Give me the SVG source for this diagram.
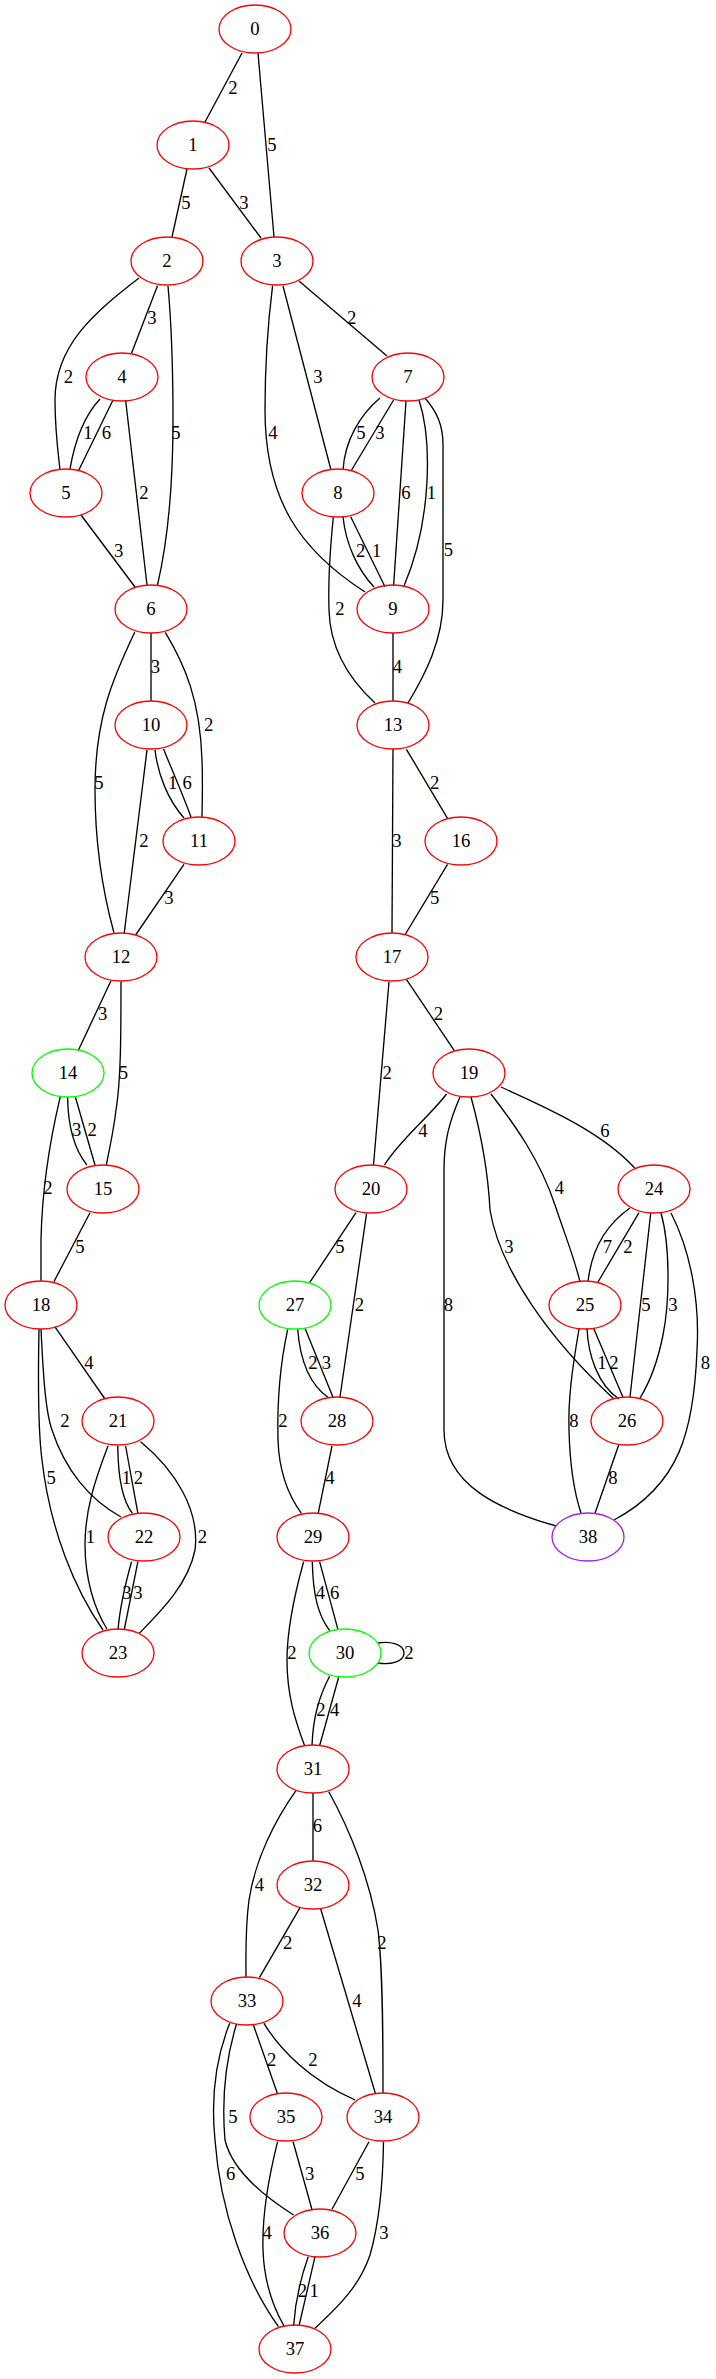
<svg xmlns="http://www.w3.org/2000/svg" width="716" height="2379" viewBox="0 0 716 2379">
<style>
.n ellipse{fill:none;stroke:#ff0000;stroke-width:1.33}
.n.g ellipse{stroke:#00ff00}
.n.p ellipse{stroke:#a020f0}
text{font-family:"Liberation Serif","Times New Roman",serif;font-size:18.67px;fill:#000;text-anchor:middle}
#edges path{fill:none;stroke:#000;stroke-width:1.33}
</style>
<rect width="716" height="2379" fill="#fff"/>
<g id="edges">
<path d="M242,53 L205,122"/><text x="233" y="94">2</text>
<path d="M258,53 C263,110 269,180 274,237"/><text x="272" y="151">5</text>
<path d="M187,169 L172,237"/><text x="186" y="209">5</text>
<path d="M209,168 L261,238"/><text x="244" y="209">3</text>
<path d="M157.5,285.7 L131.5,353.3"/><text x="152" y="324">3</text>
<path d="M139,278 C95,312 55,345 55,400 C55,430 58,452 60,470"/><text x="68.5" y="383">2</text>
<path d="M168,286 C172,330 173,380 173,420 C173,480 168,540 157.5,585"/><text x="176" y="439">5</text>
<path d="M299,281 L387,356"/><text x="351.6" y="324">2</text>
<path d="M283,286 L331,470"/><text x="318" y="383">3</text>
<path d="M272.6,285.7 C267,330 265,370 265,410 C265,500 300,550 365,592"/><text x="273" y="439">4</text>
<path d="M100,399 C85,415 75,440 70,469"/><text x="88" y="439">1</text>
<path d="M113,400 L78.5,470.7"/><text x="106.4" y="439">6</text>
<path d="M125.6,400 L147,585"/><text x="143.8" y="499">2</text>
<path d="M81,515 L135,587"/><text x="118.7" y="557">3</text>
<path d="M380,398 C360,415 345,440 343,470"/><text x="361" y="439">5</text>
<path d="M393.6,400 L351.6,470"/><text x="380" y="439">3</text>
<path d="M406,401 L393.6,585.7"/><text x="406" y="499">6</text>
<path d="M419,400 C432,440 432,520 404,586"/><text x="431.5" y="499">1</text>
<path d="M425,398 C437,412 443,425 443,445 C443,510 443,560 443,600 C443,640 425,675 408,703"/><text x="448.4" y="556">5</text>
<path d="M343,517 C346,545 358,570 374,587"/><text x="360.7" y="557">2</text>
<path d="M350.7,516.7 L385,586.7"/><text x="376.7" y="557">1</text>
<path d="M333.3,517.3 C330,550 328,580 329,610 C330,650 350,680 375,703"/><text x="340" y="615">2</text>
<path d="M393,633 L393,701"/><text x="397.5" y="673">4</text>
<path d="M151,633 L151,701"/><text x="155.5" y="673">3</text>
<path d="M165.3,632.3 C185,665 200,700 202,760 C203,790 202,805 202,817"/><text x="208.7" y="731">2</text>
<path d="M134.7,632.3 C112,680 95,720 95,790 C95,850 105,900 114,933"/><text x="99" y="789">5</text>
<path d="M155,750 C158,775 168,800 184,818"/><text x="172.6" y="789">1</text>
<path d="M163.5,749 C172,770 183,795 191,817"/><text x="187.2" y="789">6</text>
<path d="M147,750 L124.2,933.3"/><text x="143.8" y="847">2</text>
<path d="M184,864.3 L135.6,935"/><text x="169" y="904">3</text>
<path d="M406.4,749.3 L447.5,818.3"/><text x="434.7" y="789">2</text>
<path d="M393,749 L392,933"/><text x="397" y="847">3</text>
<path d="M447.5,864.3 L405.5,934"/><text x="434.7" y="904">5</text>
<path d="M111,980.7 L78.5,1050"/><text x="102.7" y="1020">3</text>
<path d="M121,981.7 C121,1030 121,1080 116,1110 C113,1135 109,1150 106.4,1165"/><text x="123.3" y="1079">5</text>
<path d="M406.4,979.3 L454.3,1050.7"/><text x="438.3" y="1020">2</text>
<path d="M389,981.7 L373.5,1165"/><text x="387.2" y="1079">2</text>
<path d="M67.6,1097.3 C68,1130 75,1150 86.8,1165"/><text x="76.7" y="1136">3</text>
<path d="M75.3,1096.7 L95,1165"/><text x="92.2" y="1136">2</text>
<path d="M60.3,1096.7 C50,1140 42,1190 41,1240 L41,1281"/><text x="48" y="1194">2</text>
<path d="M90,1212.7 L53.9,1281.7"/><text x="80" y="1253">5</text>
<path d="M446.6,1094 C428,1118 400,1140 384.5,1165"/><text x="422.8" y="1137">4</text>
<path d="M501,1087 C540,1105 600,1130 634.7,1168"/><text x="605" y="1137">6</text>
<path d="M491,1094 C515,1125 540,1160 555,1205 C565,1235 575,1260 580,1282"/><text x="559.3" y="1194">4</text>
<path d="M471,1097 C480,1130 488,1170 490,1210 C500,1270 550,1340 614,1399"/><text x="509" y="1253">3</text>
<path d="M460,1097 C450,1120 444,1140 444,1170 L444,1430 C444,1485 500,1510 556,1526"/><text x="448.4" y="1311">8</text>
<path d="M356,1212.7 L309.6,1282.7"/><text x="340" y="1253">5</text>
<path d="M366.6,1213.3 L340,1397"/><text x="359.4" y="1311">2</text>
<path d="M630,1208 C610,1222 592,1245 588,1282"/><text x="607.3" y="1253">7</text>
<path d="M639,1212.7 L598,1282"/><text x="627.8" y="1253">2</text>
<path d="M650.7,1213.3 L630,1397"/><text x="646" y="1311">5</text>
<path d="M661,1213 C670,1245 670,1300 663,1335 C658,1360 650,1382 640,1398"/><text x="673" y="1311">3</text>
<path d="M671,1213 C690,1250 700,1300 697,1350 C694,1430 680,1485 614,1520"/><text x="705.5" y="1369">8</text>
<path d="M587,1328 C588,1355 598,1385 619,1399"/><text x="602" y="1369">1</text>
<path d="M593.6,1328.3 L623.3,1398"/><text x="614" y="1369">2</text>
<path d="M579,1329 C572,1370 568,1400 569,1430 C570,1470 575,1495 581,1513"/><text x="574" y="1427">8</text>
<path d="M618.7,1445 L595,1513.3"/><text x="612.8" y="1484">8</text>
<path d="M54.8,1326.7 L105,1399"/><text x="89" y="1369">4</text>
<path d="M41,1329 C43,1370 45,1410 52,1430 C65,1470 90,1500 121,1517"/><text x="64.8" y="1427">2</text>
<path d="M39,1329 C38,1380 38,1430 42,1460 C50,1530 75,1590 103,1630"/><text x="51.1" y="1484">5</text>
<path d="M117.8,1446 C118,1475 122,1500 132.4,1513.3"/><text x="126.5" y="1484">1</text>
<path d="M125.6,1446 L137.9,1513.3"/><text x="138.4" y="1484">2</text>
<path d="M108,1446 C95,1480 85,1510 85,1545 C85,1580 95,1610 107,1629"/><text x="90.4" y="1543">1</text>
<path d="M140.6,1441.7 C175,1470 200,1510 195,1550 C188,1585 160,1612 139.3,1633.3"/><text x="202.3" y="1543">2</text>
<path d="M131.5,1561.7 C125,1585 120,1605 118,1630"/><text x="127" y="1599">3</text>
<path d="M137.9,1561.7 L124.2,1630"/><text x="137.9" y="1599">3</text>
<path d="M297.7,1329.3 C300,1360 310,1385 328.8,1398"/><text x="312.8" y="1369">2</text>
<path d="M305,1328.3 L333.3,1398"/><text x="326.5" y="1369">3</text>
<path d="M287.7,1329.3 C281,1360 277,1400 278,1440 C279,1470 288,1495 301.4,1513.3"/><text x="283" y="1427">2</text>
<path d="M332,1446 L318.2,1513.3"/><text x="330" y="1484">4</text>
<path d="M312.3,1561.7 C313,1595 318,1615 329.7,1630.7"/><text x="320.5" y="1599">4</text>
<path d="M319.6,1561.7 L337.9,1629.3"/><text x="334.7" y="1599">6</text>
<path d="M303.6,1561.7 C293,1600 287,1630 287,1660 C287,1695 295,1720 304.6,1745.7"/><text x="292" y="1659">2</text>
<path d="M378,1643 C390,1641 404,1644 404,1653 C404,1662 390,1665 378,1663"/><text x="409" y="1659">2</text>
<path d="M329.7,1676 C320,1695 313,1715 312,1745.7"/><text x="321" y="1716">2</text>
<path d="M338.8,1676.7 L319.6,1745.7"/><text x="334.7" y="1716">4</text>
<path d="M313,1793 L313,1861"/><text x="317.3" y="1832">6</text>
<path d="M296,1790.7 C275,1820 255,1860 249,1900 C245,1930 246,1955 246,1977"/><text x="259.4" y="1891">4</text>
<path d="M328.8,1791.7 C350,1830 370,1880 378,1930 C383,1970 383,2040 383,2093"/><text x="382" y="1949">2</text>
<path d="M300,1907.7 L259.4,1977.7"/><text x="287.7" y="1949">2</text>
<path d="M320.5,1908.3 L375.3,2093.3"/><text x="357" y="2007">4</text>
<path d="M253.4,2025 L277.6,2094"/><text x="271.7" y="2066">2</text>
<path d="M264,2023.3 C280,2050 310,2080 355.2,2100"/><text x="312.8" y="2066">2</text>
<path d="M236.5,2024 C224,2065 222,2105 225,2140 C232,2170 262,2195 293.6,2215"/><text x="232.9" y="2123">5</text>
<path d="M229.7,2023.3 C215,2060 211,2100 215,2140 C220,2210 245,2280 278.5,2326.7"/><text x="230.6" y="2180">6</text>
<path d="M293.1,2141.7 L311.9,2209.3"/><text x="309.6" y="2180">3</text>
<path d="M277.6,2141.7 C268,2180 262,2220 263,2250 C264,2280 272,2305 284,2326"/><text x="267.1" y="2239">4</text>
<path d="M369,2141.7 L332,2209.3"/><text x="359.8" y="2180">5</text>
<path d="M383.5,2141.7 C383,2180 380,2220 370,2255 C360,2285 340,2305 315,2328.3"/><text x="384" y="2239">3</text>
<path d="M308.2,2256.7 C300,2280 295,2305 293.6,2326"/><text x="302.3" y="2297">2</text>
<path d="M315,2256.7 L299,2326"/><text x="314.2" y="2297">1</text>
</g>
<g id="n0" class="n"><ellipse cx="255" cy="29" rx="36" ry="24"/><text x="255" y="35">0</text></g>
<g id="n1" class="n"><ellipse cx="193" cy="145" rx="36" ry="24"/><text x="193" y="151">1</text></g>
<g id="n2" class="n"><ellipse cx="167" cy="261" rx="36" ry="24"/><text x="167" y="267">2</text></g>
<g id="n3" class="n"><ellipse cx="277" cy="261" rx="36" ry="24"/><text x="277" y="267">3</text></g>
<g id="n4" class="n"><ellipse cx="122" cy="377" rx="36" ry="24"/><text x="122" y="383">4</text></g>
<g id="n5" class="n"><ellipse cx="66" cy="493" rx="36" ry="24"/><text x="66" y="499">5</text></g>
<g id="n6" class="n"><ellipse cx="151" cy="609" rx="36" ry="24"/><text x="151" y="615">6</text></g>
<g id="n7" class="n"><ellipse cx="408" cy="377" rx="36" ry="24"/><text x="408" y="383">7</text></g>
<g id="n8" class="n"><ellipse cx="338" cy="493" rx="36" ry="24"/><text x="338" y="499">8</text></g>
<g id="n9" class="n"><ellipse cx="393" cy="609" rx="36" ry="24"/><text x="393" y="615">9</text></g>
<g id="n10" class="n"><ellipse cx="151" cy="725" rx="36" ry="24"/><text x="151" y="731">10</text></g>
<g id="n11" class="n"><ellipse cx="199" cy="841" rx="36" ry="24"/><text x="199" y="847">11</text></g>
<g id="n12" class="n"><ellipse cx="121" cy="957" rx="36" ry="24"/><text x="121" y="963">12</text></g>
<g id="n13" class="n"><ellipse cx="393" cy="725" rx="36" ry="24"/><text x="393" y="731">13</text></g>
<g id="n14" class="n g"><ellipse cx="68" cy="1073" rx="36" ry="24"/><text x="68" y="1079">14</text></g>
<g id="n15" class="n"><ellipse cx="103" cy="1189" rx="36" ry="24"/><text x="103" y="1195">15</text></g>
<g id="n16" class="n"><ellipse cx="461" cy="841" rx="36" ry="24"/><text x="461" y="847">16</text></g>
<g id="n17" class="n"><ellipse cx="392" cy="957" rx="36" ry="24"/><text x="392" y="963">17</text></g>
<g id="n18" class="n"><ellipse cx="41" cy="1305" rx="36" ry="24"/><text x="41" y="1311">18</text></g>
<g id="n19" class="n"><ellipse cx="469" cy="1073" rx="36" ry="24"/><text x="469" y="1079">19</text></g>
<g id="n20" class="n"><ellipse cx="371" cy="1189" rx="36" ry="24"/><text x="371" y="1195">20</text></g>
<g id="n21" class="n"><ellipse cx="118" cy="1421" rx="36" ry="24"/><text x="118" y="1427">21</text></g>
<g id="n22" class="n"><ellipse cx="144" cy="1537" rx="36" ry="24"/><text x="144" y="1543">22</text></g>
<g id="n23" class="n"><ellipse cx="118" cy="1653" rx="36" ry="24"/><text x="118" y="1659">23</text></g>
<g id="n24" class="n"><ellipse cx="654" cy="1189" rx="36" ry="24"/><text x="654" y="1195">24</text></g>
<g id="n25" class="n"><ellipse cx="585" cy="1305" rx="36" ry="24"/><text x="585" y="1311">25</text></g>
<g id="n26" class="n"><ellipse cx="627" cy="1421" rx="36" ry="24"/><text x="627" y="1427">26</text></g>
<g id="n27" class="n g"><ellipse cx="295" cy="1305" rx="36" ry="24"/><text x="295" y="1311">27</text></g>
<g id="n28" class="n"><ellipse cx="337" cy="1421" rx="36" ry="24"/><text x="337" y="1427">28</text></g>
<g id="n29" class="n"><ellipse cx="313" cy="1537" rx="36" ry="24"/><text x="313" y="1543">29</text></g>
<g id="n30" class="n g"><ellipse cx="345" cy="1653" rx="36" ry="24"/><text x="345" y="1659">30</text></g>
<g id="n31" class="n"><ellipse cx="313" cy="1769" rx="36" ry="24"/><text x="313" y="1775">31</text></g>
<g id="n32" class="n"><ellipse cx="313" cy="1885" rx="36" ry="24"/><text x="313" y="1891">32</text></g>
<g id="n33" class="n"><ellipse cx="247" cy="2001" rx="36" ry="24"/><text x="247" y="2007">33</text></g>
<g id="n34" class="n"><ellipse cx="383" cy="2117" rx="36" ry="24"/><text x="383" y="2123">34</text></g>
<g id="n35" class="n"><ellipse cx="286" cy="2117" rx="36" ry="24"/><text x="286" y="2123">35</text></g>
<g id="n36" class="n"><ellipse cx="320" cy="2233" rx="36" ry="24"/><text x="320" y="2239">36</text></g>
<g id="n37" class="n"><ellipse cx="295" cy="2349" rx="36" ry="24"/><text x="295" y="2355">37</text></g>
<g id="n38" class="n p"><ellipse cx="588" cy="1537" rx="36" ry="24"/><text x="588" y="1543">38</text></g>
</svg>
